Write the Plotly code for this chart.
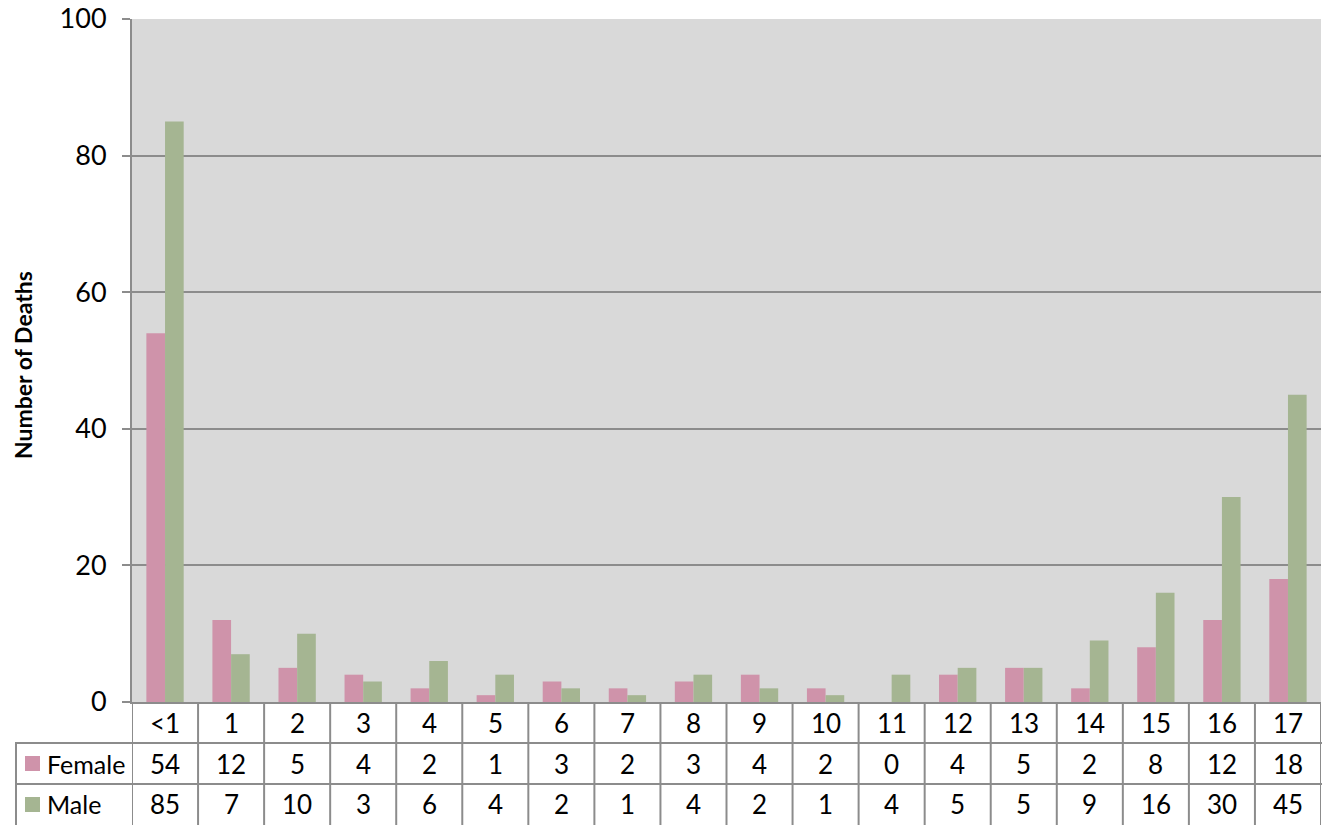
import plotly.graph_objects as go

# Deaths by age and sex
ages = ["<1", "1", "2", "3", "4", "5", "6", "7", "8", "9",
        "10", "11", "12", "13", "14", "15", "16", "17"]
female = [54, 12, 5, 4, 2, 1, 3, 2, 3, 4, 2, 0, 4, 5, 2, 8, 12, 18]
male = [85, 7, 10, 3, 6, 4, 2, 1, 4, 2, 1, 4, 5, 5, 9, 16, 30, 45]
y_ticks = [0, 20, 40, 60, 80, 100]

FEMALE_COLOR = "#CF93AA"
MALE_COLOR = "#A5B592"
LINE_COLOR = "#8C8C8C"
FONT = "Lato"

W, H = 1322, 825
ML, MR, MT, MB = 132, 1, 19, 123
PW = W - ML - MR
PH = H - MT - MB


def px_x(px):
    return (px - ML) / PW


def px_y(py):
    return (H - MB - py) / PH


fig = go.Figure()
fig.add_trace(go.Bar(x=ages, y=female, name="Female", marker_color=FEMALE_COLOR,
                     marker_line_width=0))
fig.add_trace(go.Bar(x=ages, y=male, name="Male", marker_color=MALE_COLOR,
                     marker_line_width=0))

shapes = []
annotations = []

# data table grid under the plot
row_top = H - MB
row_lines = [row_top + 41, row_top + 82]
bottom = H + 10
for i in range(len(ages) + 1):
    shapes.append(dict(type="line", xref="x", yref="paper",
                       x0=i - 0.5, x1=i - 0.5, y0=px_y(row_top), y1=px_y(bottom),
                       line=dict(color=LINE_COLOR, width=2)))
# series rows: outlined boxes whose right and bottom edges fall off the page
for ry in row_lines:
    shapes.append(dict(type="rect", xref="paper", yref="paper",
                       x0=px_x(16), x1=px_x(W + 10), y0=px_y(ry), y1=px_y(bottom),
                       fillcolor="rgba(0,0,0,0)",
                       line=dict(color=LINE_COLOR, width=2)))

cell_font = dict(family=FONT, size=26, color="#000000")
row_centers = [row_top + 20.5, row_top + 61.5, row_top + 102.5]
for i, a in enumerate(ages):
    for text, cy in [(a, row_centers[0]), (str(female[i]), row_centers[1]),
                     (str(male[i]), row_centers[2])]:
        annotations.append(dict(x=i, y=px_y(cy), xref="x", yref="paper",
                                xanchor="center", yanchor="middle",
                                text=text, showarrow=False, font=cell_font))

# legend keys inside the table
for name, color, cy in [("Female", FEMALE_COLOR, row_centers[1]),
                        ("Male", MALE_COLOR, row_centers[2])]:
    shapes.append(dict(type="rect", xref="paper", yref="paper",
                       x0=px_x(25), x1=px_x(40), y0=px_y(cy - 7.5), y1=px_y(cy + 7.5),
                       fillcolor=color, line=dict(width=0)))
    annotations.append(dict(x=px_x(45), y=px_y(cy), xref="paper", yref="paper",
                            text=name, showarrow=False, xanchor="left",
                            yanchor="middle", font=dict(family=FONT, size=25,
                                                        color="#000000")))

annotations.append(dict(x=px_x(23), y=px_y(365), xref="paper", yref="paper",
                        xanchor="center", yanchor="middle",
                        text="Number of Deaths", textangle=-90, showarrow=False,
                        font=dict(family=FONT, size=23, weight="bold",
                                  color="#000000")))

fig.update_layout(
    width=W, height=H,
    margin=dict(l=ML, r=MR, t=MT, b=MB, pad=0),
    paper_bgcolor="#FFFFFF",
    plot_bgcolor="#D9D9D9",
    barmode="group",
    bargap=0.435,
    bargroupgap=0,
    showlegend=False,
    font=dict(family=FONT, size=26, color="#000000"),
    shapes=shapes,
    annotations=annotations,
)
fig.update_xaxes(type="category", range=[-0.5, len(ages) - 0.5],
                 showticklabels=False, ticks="", showgrid=False,
                 showline=True, linecolor=LINE_COLOR, linewidth=2)
fig.update_yaxes(range=[0, 100], tickvals=y_ticks, ticks="outside", ticklen=8,
                 tickwidth=2, tickcolor=LINE_COLOR, ticklabelstandoff=10,
                 showgrid=True, gridcolor=LINE_COLOR, gridwidth=1.5,
                 showline=True, linecolor=LINE_COLOR, linewidth=2,
                 zeroline=False, tickfont=dict(family=FONT, size=27))

fig.write_html("out.html")
